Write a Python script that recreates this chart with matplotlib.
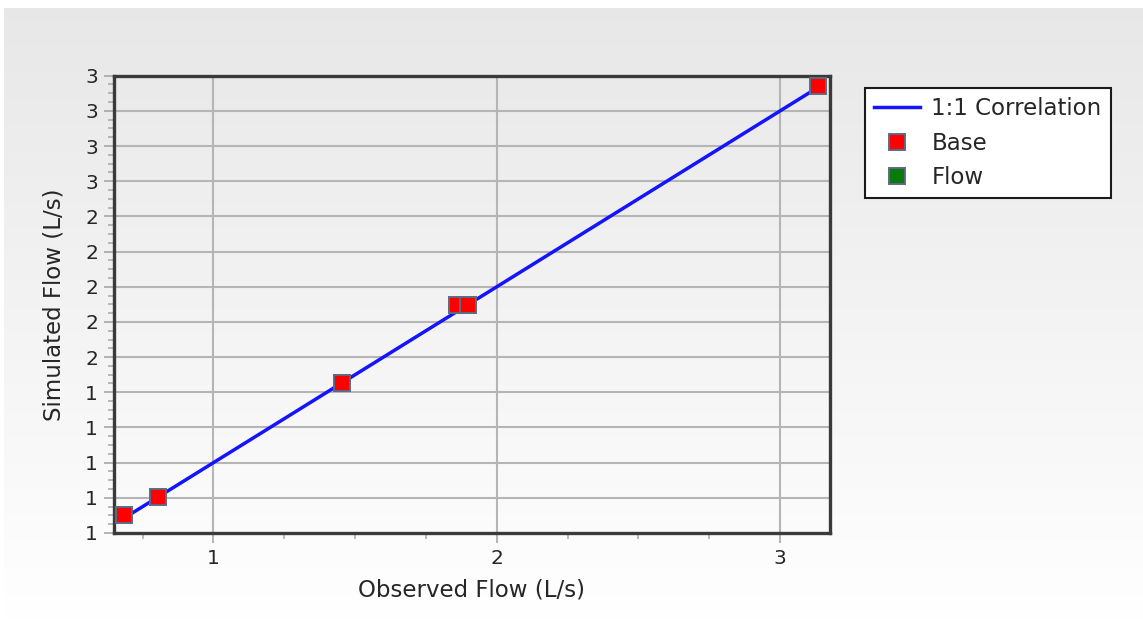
import numpy as np
import matplotlib
matplotlib.use("Agg")
import matplotlib.pyplot as plt
from matplotlib.ticker import FormatStrFormatter, MultipleLocator

# ---------------- data ----------------
base_observed = [0.685, 0.805, 1.455, 1.86, 1.897, 3.133]
base_simulated = [0.70, 0.805, 1.452, 1.895, 1.895, 3.14]
flow_observed = []
flow_simulated = []
x_ticks = [1, 2, 3]
y_ticks = [0.6, 0.8, 1.0, 1.2, 1.4, 1.6, 1.8, 2.0, 2.2, 2.4, 2.6, 2.8, 3.0, 3.2]
x_label = "Observed Flow (L/s)"
y_label = "Simulated Flow (L/s)"
series_names = ["1:1 Correlation", "Base", "Flow"]

W, H = 1143, 621
fig = plt.figure(figsize=(W / 100, H / 100), dpi=100)
fig.patch.set_facecolor("white")

# gradient background panel
bg = fig.add_axes([4 / W, 0, 1 - 4 / W, 1 - 7.5 / H], zorder=-10)
grad = np.linspace(0.908, 1.0, 256).reshape(-1, 1)
bg.imshow(np.dstack([grad, grad, grad]), aspect="auto", extent=[0, 1, 0, 1], origin="upper")
bg.set_axis_off()

left, right, top, bottom = 114, 830, 75.7, 533
ax = fig.add_axes([left / W, 1 - bottom / H, (right - left) / W, (bottom - top) / H])
ax.set_facecolor("none")

txt = "#262626"
fs_tick = 14.5
fs_lab = 16.5

# 1:1 line across the data range
lo = min(base_observed)
hi = max(base_observed)
ax.plot([lo, hi], [lo, hi], color="#1414ff", lw=2.5, zorder=3, label=series_names[0])
ax.plot(base_observed, base_simulated, ls="none", marker="s", ms=11.2,
        mfc="#ff0000", mec="#5b6b82", mew=1.4, zorder=4, label=series_names[1])
ax.plot(flow_observed, flow_simulated, ls="none", marker="s", ms=11.2,
        mfc="#0b7a0b", mec="#5b6b82", mew=1.4, zorder=4, label=series_names[2])

ax.set_xlim(0.649, 3.176)
ax.set_ylim(0.6, 3.2)
ax.set_xticks(x_ticks)
ax.set_yticks(y_ticks)
ax.xaxis.set_minor_locator(MultipleLocator(0.25))
ax.yaxis.set_minor_locator(MultipleLocator(0.05))
ax.xaxis.set_major_formatter(FormatStrFormatter("%.0f"))
ax.yaxis.set_major_formatter(FormatStrFormatter("%.0f"))

ax.grid(True, which="major", color="#b5b5b5", lw=1.5, zorder=1)
ax.set_axisbelow(True)
for s in ax.spines.values():
    s.set_color("#3a3a3a")
    s.set_linewidth(2.4)

ax.tick_params(which="major", direction="out", length=7.5, width=1.1, color="#a0a0a0",
               labelsize=fs_tick, labelcolor=txt, pad=4)
ax.tick_params(which="minor", direction="out", length=4.5, width=1.1, color="#a8a8a8")

ax.set_xlabel(x_label, fontsize=fs_lab, color=txt)
ax.set_ylabel(y_label, fontsize=fs_lab, color=txt)
ax.xaxis.set_label_coords(0.5, (bottom - 590) / (bottom - top))
ax.xaxis.label.set_va("center")
ax.yaxis.set_label_coords((54 - left) / (right - left), 0.5)
ax.yaxis.label.set_va("center")

leg = ax.legend(loc="upper left", bbox_to_anchor=(865 / W, 1 - 88 / H),
                bbox_transform=fig.transFigure, borderaxespad=0, fontsize=fs_lab,
                frameon=True, fancybox=False, handlelength=2.0, handletextpad=0.5,
                borderpad=0.4, labelspacing=0.5, markerscale=1.0)
leg.get_frame().set_edgecolor("#1a1a1a")
leg.get_frame().set_linewidth(1.5)
leg.get_frame().set_facecolor("white")
leg.get_frame().set_alpha(1)
for t in leg.get_texts():
    t.set_color(txt)

fig.savefig("out.png", dpi=100)
